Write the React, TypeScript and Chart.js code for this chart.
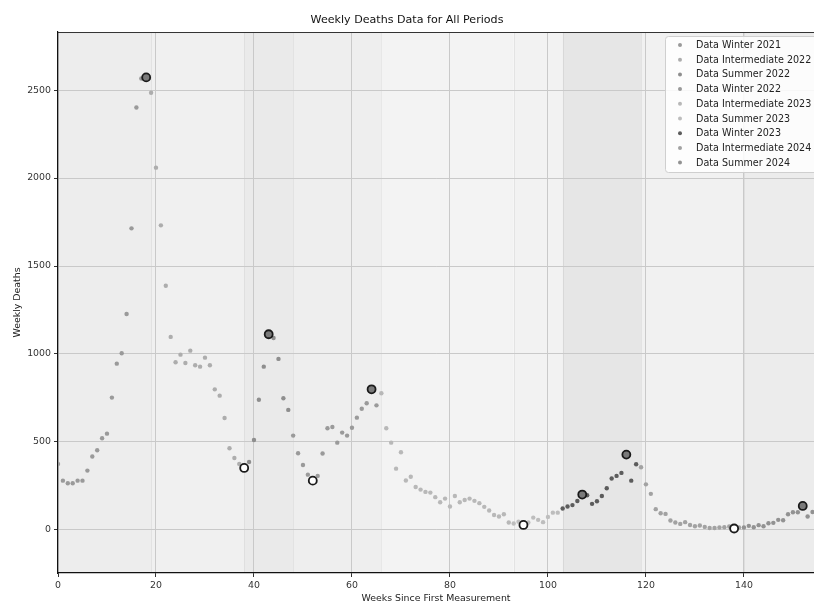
import React, { useEffect, useRef } from "react";
import { Chart, registerables } from "chart.js";

Chart.register(...registerables);

const FONT = "'DejaVu Sans', sans-serif";

const periodNames = [
  "Data Winter 2021",
  "Data Intermediate 2022",
  "Data Summer 2022",
  "Data Winter 2022",
  "Data Intermediate 2023",
  "Data Summer 2023",
  "Data Winter 2023",
  "Data Intermediate 2024",
  "Data Summer 2024",
];
const periodStarts = [0, 19, 38, 48, 66, 93, 103, 119, 140];
const lastWeek = 154;
const pointColors = ["#9a9a9a", "#adadad", "#8e8e8e", "#9a9a9a", "#b8b8b8", "#bdbdbd", "#5c5c5c", "#a2a2a2", "#929292"];
const bandColors = ["#ededed", "#f0f0f0", "#eaeaea", "#eeeeee", "#f3f3f3", "#f2f2f2", "#e6e6e6", "#f1f1f1", "#ececec"];

const weeklyDeaths = [
  375, 280, 265, 265, 280, 280, 337, 417, 453, 521,
  547, 752, 945, 1004, 1227, 1714, 2401, 2566, 2572, 2485,
  2059, 1731, 1388, 1097, 953, 996, 949, 1019, 936, 928,
  979, 936, 799, 763, 636, 464, 409, 375, 352, 386,
  511, 740, 928, 1112, 1091, 972, 748, 682, 536, 436,
  369, 314, 280, 307, 434, 578, 585, 496, 553, 536,
  581, 638, 689, 720, 799, 708, 777, 578, 496, 348,
  441, 281, 302, 244, 229, 216, 212, 186, 157, 178,
  133, 193, 157, 170, 178, 165, 152, 131, 110, 85,
  76, 89, 42, 36, 47, 28, 42, 70, 57, 44,
  74, 98, 98, 122, 133, 141, 164, 201, 197, 148,
  163, 193, 237, 292, 307, 324, 428, 280, 373, 356,
  259, 205, 118, 95, 91, 53, 42, 34, 44, 28,
  21, 25, 17, 11, 11, 14, 15, 19, 8, 14,
  14, 23, 15, 27, 21, 38, 40, 57, 55, 89,
  100, 100, 136, 76, 102,
];

const peakWeeks = [18, 43, 64, 107, 116, 152];
const troughWeeks = [38, 52, 95, 138];
const xTicks = [0, 20, 40, 60, 80, 100, 120, 140];
const yTicks = [0, 500, 1000, 1500, 2000, 2500];
const xRange = [0, 154.3];
const yRange = [-245, 2830];

const bandsPlugin = {
  id: "bands",
  beforeDraw(chart: any) {
    const { ctx, chartArea, scales } = chart;
    const x = scales.x;
    ctx.save();
    ctx.beginPath();
    ctx.rect(chartArea.left, chartArea.top, chartArea.right - chartArea.left, chartArea.bottom - chartArea.top);
    ctx.clip();
    periodStarts.forEach((s, i) => {
      const e = i + 1 < periodStarts.length ? periodStarts[i + 1] : lastWeek + 1;
      const x0 = x.getPixelForValue(s);
      const x1 = x.getPixelForValue(e);
      ctx.fillStyle = bandColors[i];
      ctx.fillRect(x0, chartArea.top, x1 - x0, chartArea.bottom - chartArea.top);
    });
    ctx.strokeStyle = "rgba(0,0,0,0.06)";
    ctx.lineWidth = 1;
    periodStarts.slice(1).forEach((s) => {
      const px = Math.round(x.getPixelForValue(s)) + 0.5;
      ctx.beginPath();
      ctx.moveTo(px, chartArea.top);
      ctx.lineTo(px, chartArea.bottom);
      ctx.stroke();
    });
    ctx.restore();
  },
  afterDraw(chart: any) {
    const { ctx, chartArea } = chart;
    ctx.save();
    // top spine
    ctx.strokeStyle = "#333";
    ctx.lineWidth = 1;
    ctx.beginPath();
    ctx.moveTo(chartArea.left, chartArea.top + 0.5);
    ctx.lineTo(chartArea.right, chartArea.top + 0.5);
    ctx.stroke();
    // legend
    const bx = 665.5, by = 36.5, bw = 170, bh = 136, r = 3;
    ctx.beginPath();
    ctx.moveTo(bx + r, by);
    ctx.lineTo(bx + bw - r, by);
    ctx.arcTo(bx + bw, by, bx + bw, by + r, r);
    ctx.lineTo(bx + bw, by + bh - r);
    ctx.arcTo(bx + bw, by + bh, bx + bw - r, by + bh, r);
    ctx.lineTo(bx + r, by + bh);
    ctx.arcTo(bx, by + bh, bx, by + bh - r, r);
    ctx.lineTo(bx, by + r);
    ctx.arcTo(bx, by, bx + r, by, r);
    ctx.closePath();
    ctx.fillStyle = "rgba(255,255,255,0.85)";
    ctx.fill();
    ctx.strokeStyle = "#cfcfcf";
    ctx.stroke();
    ctx.font = `9.6px ${FONT}`;
    ctx.textBaseline = "middle";
    ctx.textAlign = "left";
    periodNames.forEach((name, i) => {
      const y = 45 + i * 14.7;
      ctx.fillStyle = pointColors[i];
      ctx.beginPath();
      ctx.arc(680, y, 2, 0, Math.PI * 2);
      ctx.fill();
      ctx.fillStyle = "#222";
      ctx.fillText(name, 696, y + 0.5);
    });
    ctx.restore();
  },
};

export default function App() {
  const ref = useRef<HTMLCanvasElement | null>(null);
  useEffect(() => {
    if (!ref.current) return;
    const datasets: any[] = [];
    datasets.push({
      label: "Peaks",
      data: peakWeeks.map((w) => ({ x: w, y: weeklyDeaths[w] })),
      pointRadius: 4,
      borderWidth: 1.8,
      borderColor: "#1a1a1a",
      backgroundColor: "#7a7a7a",
      showLine: false,
      order: -2,
    });
    datasets.push({
      label: "Troughs",
      data: troughWeeks.map((w) => ({ x: w, y: weeklyDeaths[w] })),
      pointRadius: 4,
      borderWidth: 1.8,
      borderColor: "#1a1a1a",
      backgroundColor: "#ffffff",
      showLine: false,
      order: -1,
    });
    periodStarts.forEach((s, i) => {
      const e = i + 1 < periodStarts.length ? periodStarts[i + 1] : lastWeek + 1;
      const pts: any[] = [];
      for (let w = s; w < e && w < weeklyDeaths.length; w++) pts.push({ x: w, y: weeklyDeaths[w] });
      datasets.push({
        label: periodNames[i],
        data: pts,
        pointRadius: 2.2,
        borderWidth: 0,
        backgroundColor: pointColors[i],
        borderColor: pointColors[i],
        showLine: false,
        order: i,
      });
    });
    const chart = new Chart(ref.current, {
      type: "scatter",
      data: { datasets },
      plugins: [bandsPlugin],
      options: {
        animation: false,
        responsive: false,
        devicePixelRatio: 1,
        layout: { padding: 0, autoPadding: false },
        plugins: {
          legend: { display: false },
          tooltip: { enabled: false },
          title: {
            display: true,
            text: "Weekly Deaths Data for All Periods",
            color: "#111",
            font: { family: FONT, size: 11.1, weight: "normal" },
            padding: { top: 13, bottom: 5.7 },
          },
        },
        scales: {
          x: {
            type: "linear",
            min: xRange[0],
            max: xRange[1],
            afterBuildTicks: (s: any) => {
              s.ticks = xTicks.map((v) => ({ value: v }));
            },
            afterFit: (s: any) => {
              s.height = 28;
              s.paddingLeft = 0;
              s.paddingRight = 0;
            },
            ticks: {
              color: "#333",
              font: { family: FONT, size: 9.4 },
              padding: 3,
              maxRotation: 0,
              callback: (v: any) => String(v),
            },
            grid: { color: "#c9c9c9", tickColor: "#333", tickLength: 4, lineWidth: 1 },
            border: { display: true, color: "#111", width: 1.2 },
            title: {
              display: true,
              text: "Weeks Since First Measurement",
              color: "#222",
              font: { family: FONT, size: 9.4 },
              padding: { top: 0, bottom: -3 },
            },
          },
          y: {
            type: "linear",
            min: yRange[0],
            max: yRange[1],
            afterBuildTicks: (s: any) => {
              s.ticks = yTicks.map((v) => ({ value: v }));
            },
            afterFit: (s: any) => {
              s.width = 58;
              s.paddingTop = 0;
              s.paddingBottom = 0;
            },
            ticks: {
              color: "#333",
              font: { family: FONT, size: 9.4 },
              padding: 3,
              callback: (v: any) => String(v),
            },
            grid: { color: "#c9c9c9", tickColor: "#333", tickLength: 4, lineWidth: 1 },
            border: { display: true, color: "#111", width: 1.2 },
            title: {
              display: true,
              text: "Weekly Deaths",
              color: "#222",
              font: { family: FONT, size: 9.4 },
              padding: { top: 12, bottom: 0 },
            },
          },
        },
      } as any,
    });
    return () => chart.destroy();
  }, []);
  return (
    <div style={{ position: "absolute", left: 0, top: 0, width: 814, height: 601, background: "#fff" }}>
      <canvas ref={ref} width={814} height={601} style={{ display: "block", width: 814, height: 601 }} />
    </div>
  );
}
